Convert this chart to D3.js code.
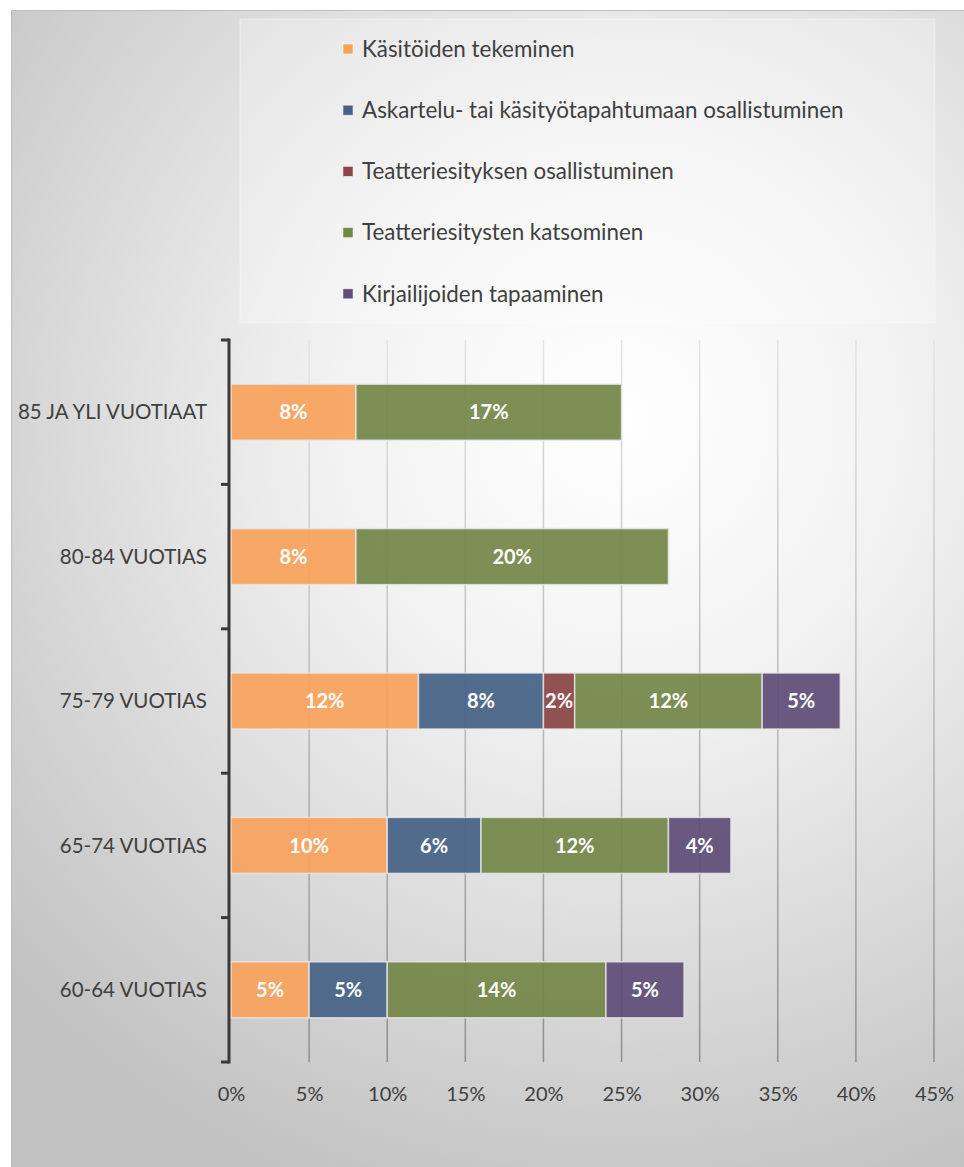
<!DOCTYPE html>
<html>
<head>
<meta charset="utf-8">
<script src="https://cdn.jsdelivr.net/npm/d3@7"></script>
<style>
  body { margin: 0; background: #fff; }
  svg { display: block; }
</style>
</head>
<body>
<div id="chart"></div>
<script>
'use strict';

// categories, bottom to top as in the picture
const ageGroups = ['60-64 VUOTIAS', '65-74 VUOTIAS', '75-79 VUOTIAS', '80-84 VUOTIAS', '85 JA YLI VUOTIAAT'];
const seriesNames = [
  'Käsitöiden tekeminen',
  'Askartelu- tai käsityötapahtumaan osallistuminen',
  'Teatteriesityksen osallistuminen',
  'Teatteriesitysten katsominen',
  'Kirjailijoiden tapaaminen'
];
const seriesColors = ['#f8a35c', '#466287', '#8a4545', '#738747', '#5f4e77'];

// values in %, one per age group (same order as ageGroups)
const kasityot   = [5, 10, 12, 8, 8];
const askartelu  = [5, 6, 8, 0, 0];
const teatteriOs = [0, 0, 2, 0, 0];
const teatteriKa = [14, 12, 12, 20, 17];
const kirjailija = [5, 4, 5, 0, 0];

const xTicks = [0, 5, 10, 15, 20, 25, 30, 35, 40, 45];

const W = 964, H = 1167;
const margin = {top: 340, right: 30, bottom: 105, left: 231};
const plotW = 934 - margin.left;
const plotH = 1062 - margin.top;
const font = 'Lato, sans-serif';

const svg = d3.select('#chart').append('svg').attr('width', W).attr('height', H);
const defs = svg.append('defs');

//background gradient
const bg = defs.append('radialGradient').attr('id', 'bg')
  .attr('gradientUnits', 'userSpaceOnUse')
  .attr('cx', 620).attr('cy', 420).attr('r', 820);
bg.append('stop').attr('offset', '0%').attr('stop-color', '#ffffff');
bg.append('stop').attr('offset', '35%').attr('stop-color', '#f2f2f2');
bg.append('stop').attr('offset', '100%').attr('stop-color', '#c2c2c2');

const gridGrad = defs.append('linearGradient').attr('id', 'grid')
  .attr('gradientUnits', 'userSpaceOnUse')
  .attr('x1', 0).attr('y1', margin.top).attr('x2', 0).attr('y2', margin.top + plotH);
gridGrad.append('stop').attr('offset', '0%').attr('stop-color', '#e4e4e4');
gridGrad.append('stop').attr('offset', '100%').attr('stop-color', '#8e8e8e');

svg.append('rect').attr('x', 11).attr('y', 10).attr('width', W - 11).attr('height', H - 10)
  .attr('fill', 'url(#bg)');
svg.append('line').attr('x1', 11).attr('x2', W).attr('y1', 10.5).attr('y2', 10.5)
  .attr('stroke', '#bdbdbd').attr('stroke-width', 1);
svg.append('line').attr('x1', 11.5).attr('x2', 11.5).attr('y1', 10).attr('y2', H)
  .attr('stroke', '#bdbdbd').attr('stroke-width', 1);

//scales
const x = d3.scaleLinear().domain([0, 45]).range([margin.left, margin.left + plotW]);
const y = d3.scaleBand().domain(ageGroups.slice().reverse())
  .range([margin.top, margin.top + plotH]).paddingInner(0.612).paddingOuter(0.306);

//legend box
const legend = svg.append('g');
legend.append('rect').attr('x', 240).attr('y', 19).attr('width', 695).attr('height', 304)
  .attr('fill', '#ffffff').attr('fill-opacity', 0.28)
  .attr('stroke', '#ffffff').attr('stroke-opacity', 0.4);
seriesNames.forEach(function(name, i) {
  const cy = 49 + i * 61.2;
  legend.append('rect').attr('x', 343).attr('y', cy - 5).attr('width', 10).attr('height', 10)
    .attr('fill', seriesColors[i]).attr('stroke', '#ffffff').attr('stroke-opacity', 0.6).attr('stroke-width', 0.8);
  legend.append('text').attr('x', 362).attr('y', cy).attr('dy', '0.35em')
    .attr('font-family', font).attr('font-size', 22.4).attr('fill', '#404040')
    .text(name);
});

//gridlines
svg.append('g').selectAll('line').data(xTicks.slice(1)).join('line')
  .attr('x1', d => x(d)).attr('x2', d => x(d))
  .attr('y1', margin.top).attr('y2', margin.top + plotH)
  .attr('stroke', 'url(#grid)').attr('stroke-width', 1.5);

//stack
const rows = ageGroups.map(function(g, i) {
  return {group: g, s0: kasityot[i], s1: askartelu[i], s2: teatteriOs[i], s3: teatteriKa[i], s4: kirjailija[i]};
});
const stack = d3.stack().keys(['s0', 's1', 's2', 's3', 's4']);
const layers = stack(rows);

const bars = svg.append('g');
layers.forEach(function(layer, li) {
  const g = bars.append('g');
  layer.forEach(function(d) {
    const v = d[1] - d[0];
    if (v <= 0) return;
    const yy = y(d.data.group);
    g.append('rect')
      .attr('x', x(d[0])).attr('y', yy)
      .attr('width', x(d[1]) - x(d[0])).attr('height', y.bandwidth())
      .attr('fill', seriesColors[li]).attr('fill-opacity', 0.93)
      .attr('stroke', '#e8e8e8').attr('stroke-opacity', 0.8).attr('stroke-width', 1.5);
    g.append('text')
      .attr('x', (x(d[0]) + x(d[1])) / 2).attr('y', yy + y.bandwidth() / 2).attr('dy', '0.36em')
      .attr('text-anchor', 'middle')
      .attr('font-family', font).attr('font-weight', 'bold').attr('font-size', 20)
      .attr('fill', '#ffffff')
      .text(v + '%');
  });
});

//y axis
const yAxis = svg.append('g').attr('transform', 'translate(229,0)');
yAxis.append('line').attr('x1', 0).attr('x2', 0).attr('y1', margin.top - 1.5).attr('y2', margin.top + plotH + 1.5)
  .attr('stroke', '#3a3a3a').attr('stroke-width', 3);
const yTickPos = d3.range(ageGroups.length + 1).map(i => margin.top + i * y.step());
yAxis.selectAll('.yt').data(yTickPos).join('line').attr('class', 'yt')
  .attr('x1', -8).attr('x2', 0).attr('y1', d => d).attr('y2', d => d)
  .attr('stroke', '#3a3a3a').attr('stroke-width', 3);
svg.append('g').selectAll('text').data(ageGroups).join('text')
  .attr('x', 207).attr('y', d => y(d) + y.bandwidth() / 2).attr('dy', '0.35em')
  .attr('text-anchor', 'end')
  .attr('font-family', font).attr('font-size', 20.5).attr('fill', '#404040')
  .text(d => d);

//x axis labels
const xAxis = d3.axisBottom(x).tickValues(xTicks).tickSize(0).tickPadding(0).tickFormat(d => d + '%');
const gx = svg.append('g').attr('transform', 'translate(0,' + (margin.top + plotH + 25) + ')').call(xAxis);
gx.select('.domain').remove();
gx.selectAll('text').attr('font-family', font).attr('font-size', 20).attr('fill', '#404040');
</script>
</body>
</html>
